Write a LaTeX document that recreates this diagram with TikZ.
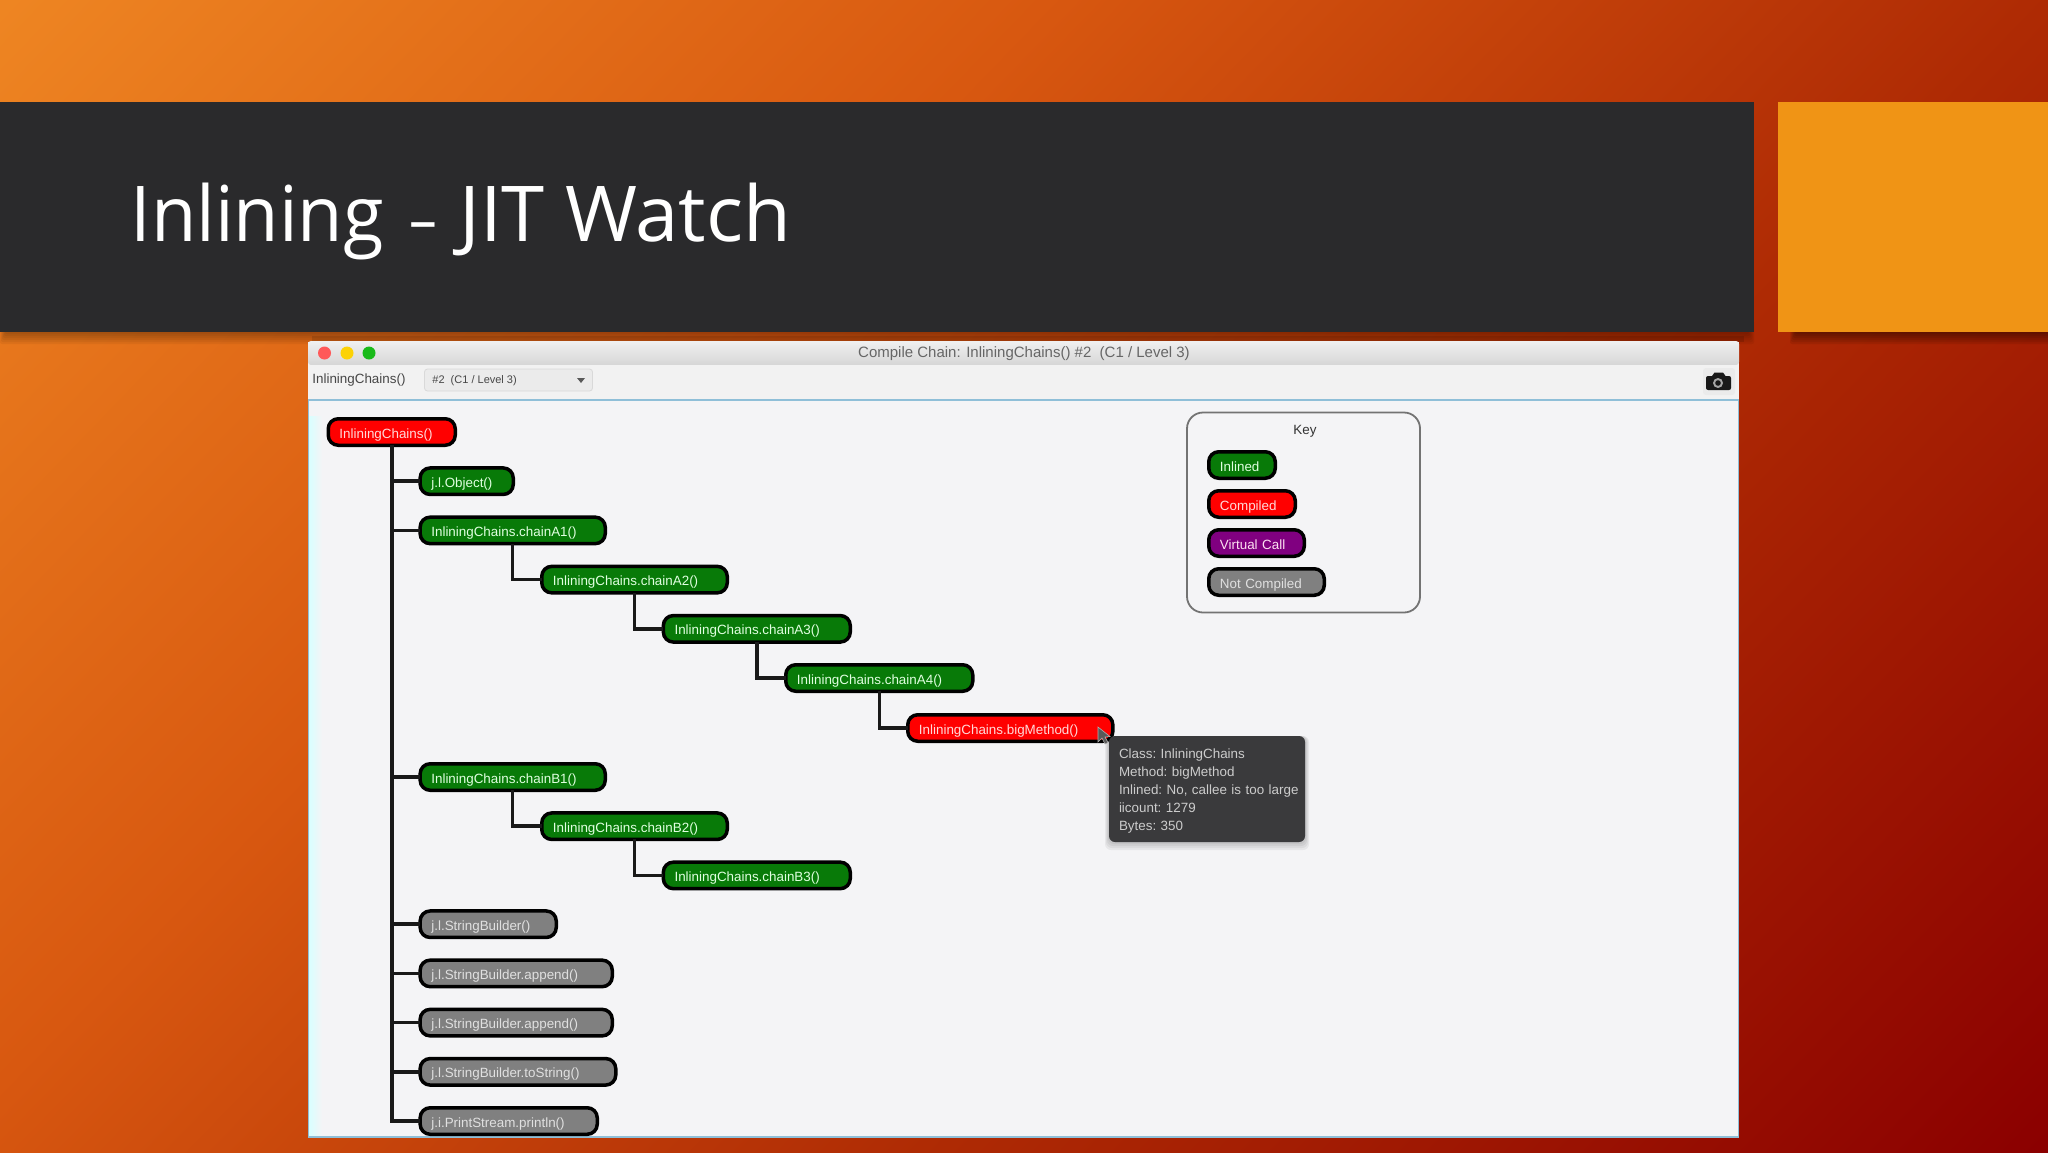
\documentclass[tikz,border=0pt]{standalone}
\usepackage{fontspec}
\setmainfont{Liberation Sans}
\newfontfamily\titlefont{Open Sans}
\definecolor{bgA}{HTML}{EE8522}
\definecolor{bgB}{HTML}{D85810}
\definecolor{bgC}{HTML}{AE2A04}
\definecolor{bgD}{HTML}{8B0000}
\definecolor{banner}{HTML}{2A2A2C}
\definecolor{accent}{HTML}{F09415}
\definecolor{pane}{HTML}{F4F4F6}
\definecolor{paneedge}{HTML}{8FBFD8}
\definecolor{tipbg}{HTML}{3A3A3C}
\pgfdeclarehorizontalshading{slidebg}{100bp}{color(0bp)=(bgA); color(25bp)=(bgA); color(41.5bp)=(bgB); color(57.5bp)=(bgC); color(75bp)=(bgD); color(100bp)=(bgD)}
\tikzset{
  treebox/.style={draw=black,line width=1.75pt,rounded corners=5pt,minimum height=13.25pt,inner ysep=0pt,inner xsep=5.6pt,align=left,font=\fontsize{6.7}{8}\selectfont,text height=6pt,text depth=0pt},
  inl/.style={fill={rgb,255:red,8;green,122;blue,8},text=green!12!white},
  comp/.style={fill=red,text=red!15!white},
  virt/.style={fill={rgb,255:red,128;green,0;blue,128},text=magenta!12!white},
  notc/.style={fill=gray,text=white!88!black},
  conn/.style={line width=1.75pt,draw=black!90,line cap=rect},
  uitext/.style={font=\fontsize{6.7}{8}\selectfont,text=black!72,inner sep=0pt},
}
\newcommand{\tnode}[6]{%
  \pgfmathsetmacro\cxx{(#3+#4)/2}%
  \pgfmathsetmacro\tww{(#4-#3-3.5)*0.5-11.2}%
  \node[treebox,#2,text width=\tww pt] (#1) at (\cxx,#5) {\mbox{#6}};}
\newcommand{\softshadow}[5]{% x1 y1 x2 y2 opacity
  \foreach \d in {0,2,...,12}{\fill[black,opacity=#5,rounded corners=1pt] (#1+\d/2,#2) rectangle (#3-\d/2,#4+12-\d);}}
\begin{document}
\begin{tikzpicture}[x=0.5pt,y=-0.5pt]
\useasboundingbox (0,0) rectangle (2048,1152);
% background
\begin{scope}
  \clip (0,0) rectangle (2048,1152);
  \shade[shading=slidebg,shading angle=-44] (1024-1137,576-1137) rectangle (1024+1137,576+1137);
  \softshadow{0}{320}{1754}{332}{0.05}
  \softshadow{1790}{320}{2060}{332}{0.08}
\end{scope}
% banner
\fill[banner] (0,102) rectangle (1754,332);
\fill[accent] (1778,102) rectangle (2048,332);
\node[anchor=base west,inner sep=0pt,text=white,font=\titlefont\fontsize{38.5}{44}\selectfont] (title) at (130,241.5) {\scalebox{0.96}[1]{Inlining}\hspace{13pt}\scalebox{0.72}[0.8]{–}\hspace{11pt}\scalebox{1.01}[1]{JIT Watch}};
% window
\fill[black,opacity=0.12] (312,336) rectangle (1744,342);
\fill[pane] (308,342) rectangle (1739,1137);
\shade[left color=white!85!cyan,right color=pane] (309,416) rectangle (322,1137);
\shade[top color=white!94!black,bottom color=white!84!black,rounded corners=1.5pt] (308,341) rectangle (1739,365);
\draw[paneedge,line width=0.6pt] (308.5,400) -- (308.5,1137) -- (1738.5,1137) -- (1738.5,400);
\fill[white!95!black] (308,365) rectangle (1739,399);
\draw[paneedge,line width=1pt] (308,400) -- (1739,400);
\fill[red!65!white] (324.5,353) circle (6.5);
\fill[yellow!70!orange] (347,353) circle (6.5);
\fill[green!70!black!90!white] (369,353) circle (6.5);
\node[uitext,text=black!60,font=\fontsize{7.5}{9}\selectfont] (wintitle) at (1024,354) {Compile Chain: InliningChains() \#2\ \ (C1 / Level 3)};
\node[uitext,anchor=west] (method) at (312,380.5) {InliningChains()};
\node[draw=black!15,fill=black!8,rounded corners=1.5pt,minimum width=84pt,minimum height=11pt,inner sep=0pt] (combo) at (508.5,380) {};
\node[uitext,anchor=west,font=\fontsize{5.5}{6}\selectfont] (combotext) at (432,381) {\#2\ \ (C1 / Level 3)};
\fill[black!65] (577,378) -- (585,378) -- (581,383) -- cycle;
% camera
\fill[black!8,rounded corners=1.5pt] (1703,368) rectangle (1735,395);
\fill[black!90,rounded corners=1pt] (1706,376) rectangle (1731,390);
\fill[black!90] (1712,376) -- (1714.5,372.5) -- (1723,372.5) -- (1725.5,376) -- cycle;
\fill[black!35] (1718,383) circle (5);
\fill[black!90] (1718,383) circle (2.8);
% tree
\tnode{root}{comp}{326.5}{457}{432}{InliningChains()}
\tnode{obj}{inl}{418.4}{515}{481.2}{j.l.Object()}
\tnode{a1}{inl}{418.4}{607}{530.4}{InliningChains.chainA1()}
\tnode{a2}{inl}{540}{729}{579.6}{InliningChains.chainA2()}
\tnode{a3}{inl}{661.6}{852}{628.8}{InliningChains.chainA3()}
\tnode{a4}{inl}{784}{974.5}{678}{InliningChains.chainA4()}
\tnode{big}{comp}{906}{1114.6}{728}{InliningChains.bigMethod()}
\tnode{b1}{inl}{418.4}{607}{777}{InliningChains.chainB1()}
\tnode{b2}{inl}{540}{729}{826.2}{InliningChains.chainB2()}
\tnode{b3}{inl}{661.6}{852}{875.4}{InliningChains.chainB3()}
\tnode{sb}{notc}{418.4}{558}{924.2}{j.l.StringBuilder()}
\tnode{app}{notc}{418.4}{614}{973.4}{j.l.StringBuilder.append()}
\tnode{appb}{notc}{418.4}{614}{1022.6}{j.l.StringBuilder.append()}
\tnode{tos}{notc}{418.4}{617.5}{1071.8}{j.l.StringBuilder.toString()}
\tnode{pr}{notc}{418.4}{599}{1121}{j.i.PrintStream.println()}
\foreach \c in {obj,a1,b1,sb,app,appb,tos,pr}{\draw[conn] (root.south) |- (\c.west);}
\draw[conn] (a1.south) |- (a2.west);
\draw[conn] (a2.south) |- (a3.west);
\draw[conn] (a3.south) |- (a4.west);
\draw[conn] (a4.south) |- (big.west);
\draw[conn] (b1.south) |- (b2.west);
\draw[conn] (b2.south) |- (b3.west);
% key
\node[draw=black!55,line width=0.9pt,rounded corners=8pt,minimum width=116.5pt,minimum height=100pt,inner sep=0pt] (keybox) at (1303.5,512.5) {};
\node[uitext,text=black!80] (keylabel) at (1305,431.5) {Key};
\tnode{kinl}{inl}{1207}{1277}{465}{Inlined}
\tnode{kcomp}{comp}{1207}{1297}{504}{Compiled}
\tnode{kvirt}{virt}{1207}{1306}{543}{Virtual Call}
\tnode{knot}{notc}{1207}{1326}{582}{Not Compiled}
% tooltip
\foreach \d in {0,2,4,6,8}{\fill[black,opacity=0.05,rounded corners=3pt] (1109-4+\d/2,736) rectangle (1305+4-\d/2,850-\d);}
\node[fill=tipbg,rounded corners=3pt,minimum width=98pt,minimum height=53pt,inner sep=0pt] (tip) at (1207,789) {};
\node[inner sep=0pt,text width=88pt,align=left,text=white!80!black,font=\fontsize{6.7}{8.9}\selectfont] (tiptext) at (1207,791) {\frenchspacing\mbox{Class: InliningChains}\\\mbox{Method: bigMethod}\\\mbox{Inlined: No, callee is too large}\\\mbox{iicount: 1279}\\\mbox{Bytes: 350}};
% pointer
\fill[black!65,draw=white!70!black,line width=0.3pt] (1098,727) -- (1098,742) -- (1102,738) -- (1105,744) -- (1108,742.5) -- (1105,737) -- (1110,736.5) -- cycle;
\end{tikzpicture}
\end{document}
